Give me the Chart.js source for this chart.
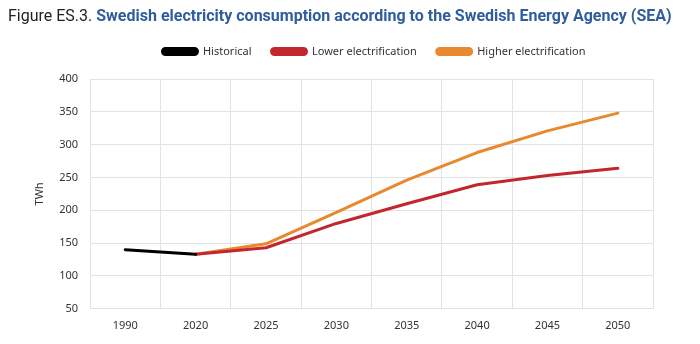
<!DOCTYPE html>
<html>
<head>
<meta charset="utf-8">
<script src="https://cdn.jsdelivr.net/npm/chart.js@4"></script>
<style>
  html, body { margin: 0; padding: 0; background: #fff; }
  #wrap { position: relative; width: 700px; height: 344px; }
  #title { position: absolute; left: 8px; top: 6px; font-family: Roboto, "Noto Sans", sans-serif; font-size: 16px; color: #222; white-space: nowrap; }
  #title b { color: #2F5D9E; font-weight: bold; }
  canvas { position: absolute; left: 0; top: 0; }
</style>
</head>
<body>
<div id="wrap">
  <canvas id="c" width="700" height="344"></canvas>
  <div id="title">Figure ES.3. <b>Swedish electricity consumption according to the Swedish Energy Agency (SEA)</b></div>
</div>
<script>
const categories = ["1990", "2020", "2025", "2030", "2035", "2040", "2045", "2050"];
const historical = [140, 133, null, null, null, null, null, null];
const lowerElectrification = [null, 133, 143, 180, 210, 239, 253, 264];
const higherElectrification = [null, 133, 149, 197, 246, 288, 321, 348];
const yTicks = [50, 100, 150, 200, 250, 300, 350, 400];

const FONT = "'Noto Sans', sans-serif";

const legendShift = {
  id: 'legendShift',
  afterLayout(chart) {
    const lg = chart.legend;
    if (!lg) return;
    lg.left += 33; lg.right += 33;
    lg.top -= 12; lg.bottom -= 12;
  }
};

new Chart(document.getElementById('c'), {
  type: 'line',
  data: {
    labels: categories,
    datasets: [
      { label: 'Historical', data: historical, borderColor: '#000000', backgroundColor: '#000000' },
      { label: 'Lower electrification', data: lowerElectrification, borderColor: '#C1272D', backgroundColor: '#C1272D' },
      { label: 'Higher electrification', data: higherElectrification, borderColor: '#E8892F', backgroundColor: '#E8892F' }
    ]
  },
  plugins: [legendShift],
  options: {
    responsive: false,
    animation: false,
    devicePixelRatio: 1,
    layout: { padding: { top: 38, right: 47, bottom: 2, left: 29 } },
    elements: {
      point: { radius: 0, hoverRadius: 0 },
      line: { borderWidth: 3, tension: 0, borderCapStyle: 'round', borderJoinStyle: 'round' }
    },
    plugins: {
      tooltip: { enabled: false },
      legend: {
        position: 'top',
        labels: {
          boxWidth: 35, boxHeight: 6,
          useBorderRadius: true, borderRadius: 3,
          color: '#333', font: { family: FONT, size: 11 },
          padding: 20
        }
      }
    },
    scales: {
      x: {
        offset: true,
        grid: { offset: true, color: '#e2e2e2', drawTicks: false },
        border: { color: '#e2e2e2' },
        ticks: { color: '#333', font: { family: FONT, size: 11 }, padding: 10, maxRotation: 0 }
      },
      y: {
        min: 50, max: 400,
        afterBuildTicks: (ax) => { ax.ticks = yTicks.map(v => ({ value: v })); },
        grid: { color: '#e2e2e2', drawTicks: false },
        border: { color: '#e2e2e2' },
        ticks: { color: '#333', font: { family: FONT, size: 11 }, padding: 12 },
        title: { display: true, text: 'TWh', color: '#333', font: { family: FONT, size: 11 }, padding: { top: 4, bottom: 1 } }
      }
    }
  }
});
</script>
</body>
</html>
